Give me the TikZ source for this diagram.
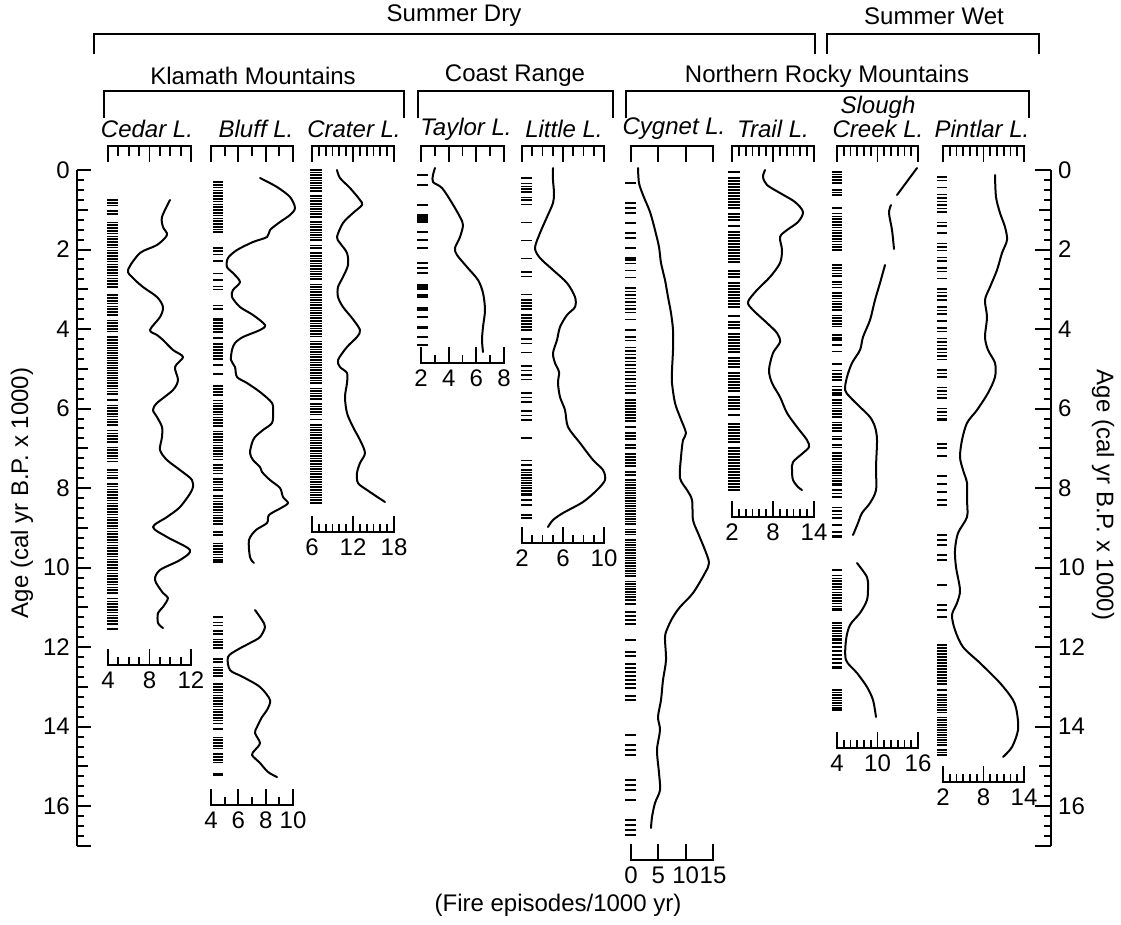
\documentclass[tikz,border=0pt]{standalone}
\usepackage{fontspec}
\setmainfont{Liberation Sans}
\newcommand\tscale[4]{%
  \draw[scl] (#1,162) -- (#1,146) -- (#2,146) -- (#2,162);
  \pgfmathtruncatemacro\nm{#3-1}%
  \foreach \k in {1,...,\nm}{%
    \pgfmathsetmacro\xx{#1+\k*(#2-#1)/#3}%
    \pgfmathtruncatemacro\mj{mod(\k,#4)==0}%
    \ifnum\mj=1 \draw[scl] (\xx,146) -- (\xx,162);\else \draw[scl] (\xx,146) -- (\xx,156);\fi
  }}
\newcommand\bscale[7]{%
  \draw[scl] (#2,#4-16) -- (#2,#4) -- (#3,#4) -- (#3,#4-16);
  \pgfmathtruncatemacro\nm{#5-1}%
  \foreach \k in {1,...,\nm}{%
    \pgfmathsetmacro\xx{#2+\k*(#3-#2)/#5}%
    \pgfmathtruncatemacro\mj{mod(\k,#6)==0}%
    \ifnum\mj=1 \draw[scl] (\xx,#4) -- (\xx,#4-16);\else \draw[scl] (\xx,#4) -- (\xx,#4-8);\fi
  }
  \foreach \lx/\lt in {#7}{\node (#1-\lt) at (\lx,#4+15) {\lt};}}
\newcommand\fire[6]{%
  \pgfmathtruncatemacro\nb{(#4-#3)/#5}%
  \draw[bar] (#1,#3) -- (#2,#3);
  \foreach \k in {0,...,\nb}{%
    \pgfmathtruncatemacro\keep{rnd<#6}%
    \ifnum\keep=1 \draw[bar] (#1,#3+\k*#5) -- (#2,#3+\k*#5);\fi}
  \draw[bar] (#1,#4) -- (#2,#4);}
\begin{document}
\begin{tikzpicture}[x=1pt,y=-1pt,
  every node/.style={font=\fontsize{24}{28}\selectfont, inner sep=0pt},
  lake/.style={font=\fontsize{24}{28}\selectfont\itshape},
  br/.style={line width=2pt},
  scl/.style={line width=1.8pt},
  ax/.style={line width=2pt},
  bar/.style={line width=1.7pt},
  curve/.style={line width=2pt, line join=round, line cap=round},
  ]
\useasboundingbox (0,0) rectangle (1121,924);
\pgfmathsetseed{1234}
% ---------- top brackets
\draw[br] (94,54) -- (94,34) -- (815,34) -- (815,54);
\draw[br] (827,54) -- (827,34) -- (1039,34) -- (1039,54);
\node (sdry) at (454,16) {Summer Dry};
\node (swet) at (934,16) {Summer Wet};
\draw[br] (104,118) -- (104,91) -- (404,91) -- (404,118);
\draw[br] (418,118) -- (418,91) -- (613,91) -- (613,118);
\draw[br] (626,118) -- (626,91) -- (1029,91) -- (1029,118);
\node (klam) at (253,76) {Klamath Mountains};
\node (coast) at (515,76) {Coast Range};
\node (nrm) at (827,76) {Northern Rocky Mountains};
% ---------- lake names
\node[lake] (ncedar) at (147,129) {Cedar L.};
\node[lake] (nbluff) at (256,129) {Bluff L.};
\node[lake] (ncrater) at (354,129) {Crater L.};
\node[lake] (ntaylor) at (466,129) {Taylor L.};
\node[lake] (nlittle) at (564,129) {Little L.};
\node[lake] (ncygnet) at (674,129) {Cygnet L.};
\node[lake] (ntrail) at (773,129) {Trail L.};
\node[lake] (nslough) at (878,107) {Slough};
\node[lake] (ncreek) at (878,129) {Creek L.};
\node[lake] (npintlar) at (982,129) {Pintlar L.};
% ---------- top scales
\tscale{108}{191}{8}{4}
\tscale{211}{293}{6}{2}
\tscale{312}{394}{12}{6}
\tscale{421}{504}{6}{2}
\tscale{522}{604}{8}{4}
\tscale{631}{713}{3}{1}
\tscale{732}{814}{12}{6}
\tscale{837}{918}{12}{6}
\tscale{943}{1024}{12}{6}
% ---------- bottom scales
\bscale{cedar}{108}{191}{665}{8}{4}{108/4,149.5/8,191/12}
\bscale{bluff}{211}{293}{805}{6}{2}{211/4,238.3/6,265.7/8,293/10}
\bscale{crater}{312}{394}{532}{12}{6}{312/6,353/12,394/18}
\bscale{taylor}{421}{504}{363}{6}{2}{421/2,448.7/4,476.3/6,504/8}
\bscale{little}{522}{604}{543}{8}{4}{522/2,563/6,604/10}
\bscale{cygnet}{631}{713}{860}{3}{1}{631/0,658.3/5,685.7/10,713/15}
\bscale{trail}{732}{814}{517}{12}{6}{732/2,773/8,814/14}
\bscale{slough}{837}{918}{748}{12}{6}{837/4,877.5/10,918/16}
\bscale{pintlar}{943}{1024}{782}{12}{6}{943/2,983.5/8,1024/14}
% ---------- age axes
\draw[ax] (77,170) -- (77,846);
\draw[ax] (1051,170) -- (1051,846);
\foreach \k in {0,...,68}{%
  \pgfmathsetmacro\yy{170+\k*39.7625/4}%
  \pgfmathtruncatemacro\mj{mod(\k,8)==0 || \k==68}%
  \pgfmathtruncatemacro\md{mod(\k,4)==0}%
  \ifnum\mj=1 \draw[ax] (77,\yy) -- (91,\yy); \draw[ax] (1051,\yy) -- (1035,\yy);
  \else\ifnum\md=1 \draw[ax] (77,\yy) -- (88,\yy); \draw[ax] (1051,\yy) -- (1039,\yy);
  \else \draw[ax] (77,\yy) -- (84,\yy); \draw[ax] (1051,\yy) -- (1044,\yy);\fi\fi}
\foreach \a in {0,2,...,16}{%
  \node[anchor=east] (la\a) at (70,170+\a*39.7625) {\a};
  \node[anchor=west] (ra\a) at (1058,170+\a*39.7625) {\a};}
\node[rotate=90] (ylabl) at (22,493) {Age (cal yr B.P. x 1000)};
\node[rotate=-90] (ylabr) at (1103,495) {Age (cal yr B.P. x 1000)};
\node (xlab) at (558,905) {(Fire episodes/1000 yr)};
% ---------- fire episodes
% Cedar
\fire{107}{118}{200}{343}{2.8}{0.85}
\fire{107}{118}{343}{383}{2.5}{0.97}
\fire{107}{118}{383}{629}{2.8}{0.88}
% Bluff
\fire{213}{223}{182}{232}{2.8}{0.9}
\fire{213}{223}{232}{320}{3.2}{0.5}
\fire{213}{223}{320}{395}{3}{0.7}
\fire{213}{223}{395}{562}{2.8}{0.82}
\fire{213}{223}{617}{775}{2.8}{0.82}
% Crater
\fire{310}{322}{170}{503}{2.6}{0.93}
% Taylor
\foreach \yy in {175,185,205,215,216.7,218.3,220,221.7,231.7,240,248.3,263.3,268.3,273.3,285,286.7,289.3,295,296.7,308.3,310,316.7,326.7,328.3,336.7,345}
  {\draw[bar] (417,\yy) -- (428,\yy);}
% Little
\fire{521}{532}{178}{200}{2.8}{0.8}
\fire{521}{532}{200}{300}{4.5}{0.5}
\fire{521}{532}{300}{330}{3}{0.8}
\fire{521}{532}{330}{470}{4.5}{0.55}
\fire{521}{532}{470}{495}{2.6}{0.95}
\fire{521}{532}{495}{518}{5}{0.6}
% Cygnet
\fire{625}{636}{183}{260}{5}{0.5}
\fire{625}{636}{260}{400}{3.5}{0.68}
\fire{625}{636}{400}{480}{3}{0.8}
\fire{625}{636}{480}{600}{2.6}{0.95}
\fire{625}{636}{600}{700}{4}{0.6}
\fire{625}{636}{700}{835}{5}{0.5}
% Trail
\fire{728}{740}{172}{490}{3}{0.75}
% Slough Creek
\fire{832}{842}{172}{183}{2.6}{0.95}
\fire{832}{842}{190}{195}{2.6}{0.7}
\fire{832}{842}{208}{250}{2.8}{0.88}
\fire{832}{842}{265}{340}{2.8}{0.85}
\fire{832}{842}{345}{395}{3.2}{0.7}
\fire{832}{842}{400}{485}{2.8}{0.88}
\fire{832}{842}{490}{537}{3.5}{0.65}
\fire{832}{842}{570}{610}{2.8}{0.88}
\fire{832}{842}{623}{640}{2.6}{0.9}
\fire{832}{842}{643}{668}{4}{0.55}
\fire{832}{842}{690}{710}{2.6}{0.95}
% Pintlar
\fire{937}{947}{177}{300}{3.5}{0.72}
\fire{937}{947}{300}{420}{3.5}{0.62}
\fire{937}{947}{420}{500}{4}{0.55}
\fire{937}{947}{500}{617}{5}{0.5}
\fire{937}{947}{645}{690}{3}{0.85}
\fire{937}{947}{695}{755}{2.5}{0.97}
% ---------- curves
\draw[curve] plot[smooth] coordinates {(170,200) (162,217) (163,227) (167,235) (157,245) (140,253) (128,270) (133,278) (143,287) (157,297) (163,307) (160,317) (150,330) (157,335) (163,340) (173,350) (183,357) (175,367) (178,380) (173,390) (157,403) (153,410) (157,417) (162,427) (162,437) (160,450) (167,460) (180,470) (192,480) (192,490) (180,507) (167,517) (153,527) (167,537) (190,550) (180,560) (160,570) (155,580) (163,593) (168,598) (163,607) (158,613) (158,623) (163,628)};
\draw[curve] plot[smooth] coordinates {(260,178) (277,187) (290,197) (295,208) (290,215) (280,222) (270,230) (267,237) (253,242) (237,250) (228,258) (227,267) (233,273) (240,282) (233,290) (232,297) (240,307) (253,315) (265,325) (260,330) (243,337) (235,343) (232,350) (231,360) (235,367) (237,377) (247,383) (260,392) (272,403) (273,413) (272,423) (263,430) (255,437) (252,443) (250,453) (253,460) (260,467) (262,472) (270,480) (280,488) (283,497) (288,503) (281,508) (269,515) (267,523) (256,530) (249,540) (250,557) (254,563)};
\draw[curve] plot[smooth] coordinates {(255,610) (262,620) (265,627) (260,637) (250,643) (237,650) (228,657) (230,670) (243,677) (260,687) (270,700) (267,710) (262,717) (257,727) (255,733) (260,743) (255,750) (252,755) (260,763) (268,772) (277,777)};
\draw[curve] plot[smooth] coordinates {(337,170) (340,178) (350,188) (360,200) (362,205) (353,213) (343,223) (337,237) (340,243) (347,253) (348,265) (343,277) (338,287) (338,297) (343,307) (352,318) (360,330) (357,337) (347,347) (338,360) (340,367) (347,373) (347,383) (345,397) (347,413) (353,427) (360,440) (365,453) (360,463) (357,473) (358,483) (367,490) (385,502)};
\draw[curve] plot[smooth] coordinates {(435,168) (433,175) (433,182) (442,188) (452,203) (460,217) (463,225) (460,237) (455,248) (457,255) (467,267) (478,280) (483,293) (485,310) (483,327) (482,340) (483,352)};
\draw[curve] plot[smooth] coordinates {(553,168) (553,180) (554,193) (553,203) (547,217) (540,233) (535,248) (540,258) (553,270) (567,283) (575,297) (575,307) (567,315) (560,327) (557,340) (553,353) (555,363) (559,372) (558,383) (560,397) (565,410) (568,427) (580,443) (593,460) (603,470) (605,480) (597,490) (583,502) (563,513) (553,520) (548,527)};
\draw[curve] plot[smooth] coordinates {(638,168) (639,183) (643,195) (650,212) (655,230) (659,247) (661,263) (665,280) (668,297) (671,313) (673,330) (673,350) (672,370) (672,383) (675,403) (680,417) (686,433) (683,440) (681,457) (680,478) (687,490) (692,500) (693,520) (698,533) (705,550) (709,563) (705,573) (693,593) (680,607) (673,617) (668,627) (665,637) (666,660) (663,680) (661,700) (658,717) (660,730) (657,750) (659,773) (660,790) (655,803) (652,817) (651,828)};
\draw[curve] plot[smooth] coordinates {(765,170) (763,177) (767,185) (780,193) (795,202) (803,212) (798,222) (787,230) (780,237) (782,250) (780,263) (770,277) (757,290) (748,302) (753,310) (767,323) (777,333) (780,342) (773,353) (769,370) (772,383) (780,397) (787,413) (797,427) (807,440) (809,447) (803,453) (793,462) (792,470) (793,480) (798,487) (802,490)};
\draw[curve] (917,168) -- (897,195);
\draw[curve] plot[smooth] coordinates {(891,205) (889,213) (892,230) (894,249)};
\draw[curve] plot[smooth] coordinates {(885,265) (880,283) (875,300) (870,320) (863,337) (860,350) (852,363) (847,377) (845,390) (850,397) (860,407) (870,417) (875,427) (877,440) (876,467) (876,490) (870,503) (862,513) (858,523) (853,535)};
\draw[curve] plot[smooth] coordinates {(857,563) (867,577) (868,587) (867,600) (860,613) (850,625) (846,640) (846,660) (857,673) (867,687) (873,700) (876,717)};
\draw[curve] plot[smooth] coordinates {(995,175) (996,197) (1000,213) (1005,227) (1007,240) (1002,253) (997,270) (990,287) (985,300) (987,317) (985,337) (988,350) (995,363) (995,377) (988,393) (977,410) (967,423) (962,440) (960,457) (963,470) (967,483) (967,500) (967,517) (958,533) (955,550) (956,567) (960,590) (957,603) (952,615) (955,630) (963,647) (980,663) (1000,683) (1013,700) (1017,713) (1018,730) (1012,747) (1003,757)};
\end{tikzpicture}
\end{document}
